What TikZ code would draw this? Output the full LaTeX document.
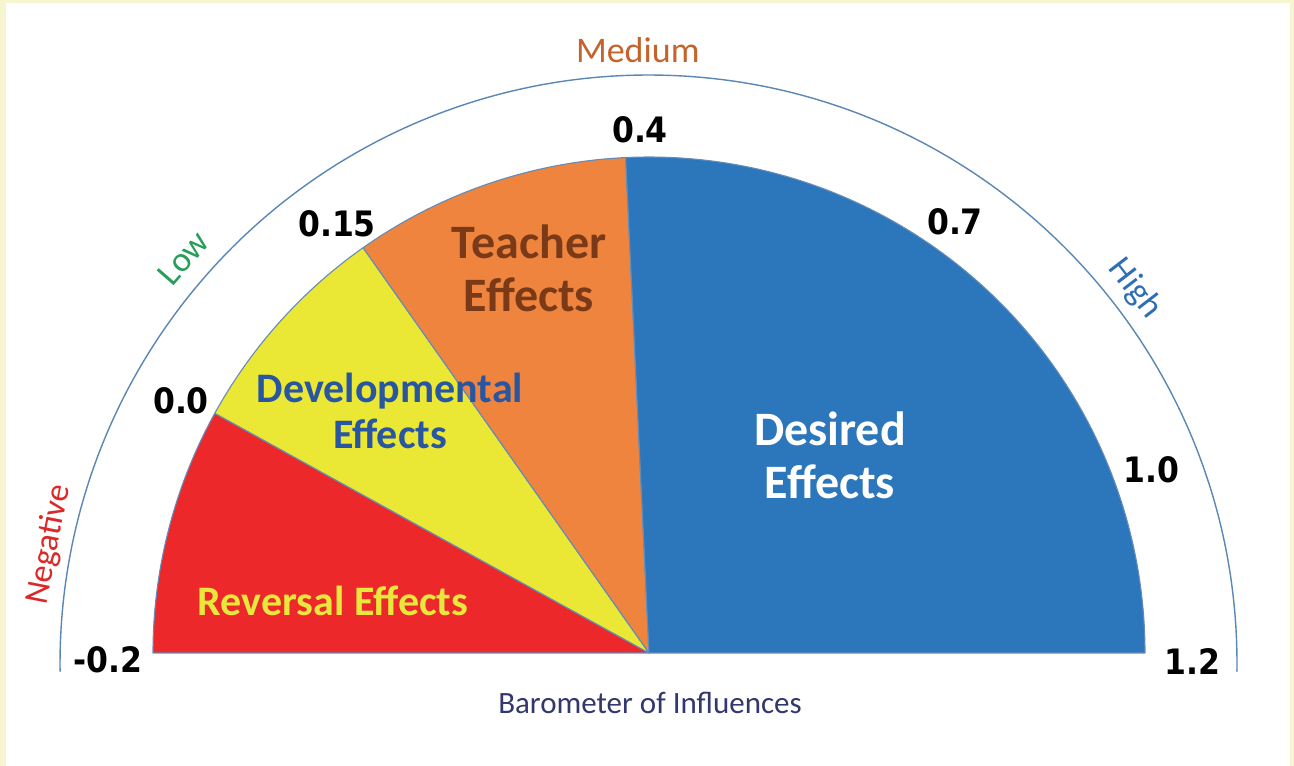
\documentclass[tikz,border=0pt]{standalone}
\usepackage{fontspec}
\setmainfont{Carlito}
\newfontfamily\numfont{DejaVu Sans Condensed}
\usetikzlibrary{calc}

\definecolor{frame}{RGB}{247,245,207}
\definecolor{wedgeline}{RGB}{100,140,185}
\definecolor{rimline}{RGB}{90,135,180}
\definecolor{revred}{RGB}{236,40,42}
\definecolor{devyellow}{RGB}{234,232,52}
\definecolor{teachorange}{RGB}{238,132,62}
\definecolor{desblue}{RGB}{44,118,188}
\definecolor{teachtext}{RGB}{122,58,24}
\definecolor{devtext}{RGB}{40,86,160}
\definecolor{revtext}{RGB}{232,232,60}
\definecolor{medtext}{RGB}{196,100,44}
\definecolor{lowtext}{RGB}{40,158,90}
\definecolor{hightext}{RGB}{46,110,180}
\definecolor{negtext}{RGB}{222,40,40}
\definecolor{barotext}{RGB}{50,55,110}

\tikzset{
  wedge/.style={draw=wedgeline, line width=1.1pt, line join=round},
  rim/.style={draw=rimline, line width=1.4pt},
  tick/.style={font=\numfont\bfseries\fontsize{35}{40}\selectfont, text=black, inner sep=0pt},
  zone/.style={font=\fontsize{#1}{40}\selectfont, inner sep=0pt},
  effect/.style={font=\bfseries\fontsize{#1}{\dimexpr #1pt*11/10\relax}\selectfont, align=center, inner sep=0pt},
}

\begin{document}
\begin{tikzpicture}[x=1pt,y=1pt]
  % page background and frame
  \useasboundingbox (0,0) rectangle (1294,766);
  \fill[frame] (0,0) rectangle (1294,766);
  \fill[white] (6,0) rectangle (1290,763);

  % centres of the gauge and of the outer scale
  \coordinate (C) at (649,113);
  \coordinate (O) at (648.5,102.5);

  % outer scale arc
  \draw[rim] ($(O)+(-0.8:588.5)$) arc[start angle=-0.8, end angle=180.8, radius=588.5];

  % wedges of the gauge
  \filldraw[wedge, fill=revred] (C) -- ($(C)+(180:496)$) arc[start angle=180, end angle=151.1, radius=496] -- cycle;
  \filldraw[wedge, fill=devyellow] (C) -- ($(C)+(151.1:496)$) arc[start angle=151.1, end angle=125.2, radius=496] -- cycle;
  \filldraw[wedge, fill=teachorange] (C) -- ($(C)+(125.2:496)$) arc[start angle=125.2, end angle=92.7, radius=496] -- cycle;
  \filldraw[wedge, fill=desblue] (C) -- ($(C)+(92.7:496)$) arc[start angle=92.7, end angle=0, radius=496] -- cycle;

  % wedge labels
  \node[effect=42, text=revtext] (rev) at (333,165) {Reversal Effects};
  \node[effect=42, text=devtext] (dev) at (390,355) {Developmental\\Effects};
  \node[effect=48, text=teachtext] (teach) at (529,498) {Teacher\\Effects};
  \node[effect=48, text=white] (des) at (830,311) {Desired\\Effects};

  % scale values
  \node[tick] (vm02) at (108,106) {-0.2};
  \node[tick] (v00) at (181,365) {0.0};
  \node[tick] (v015) at (337,542) {0.15};
  \node[tick] (v04) at (640,636) {0.4};
  \node[tick] (v07) at (955,544) {0.7};
  \node[tick] (v10) at (1151,296) {1.0};
  \node[tick] (v12) at (1192,104) {1.2};

  % zone names along the outer arc
  \node[zone=34, text=negtext, rotate=78.8] (neg) at ($(O)+(168.8:611)$) {Negative};
  \node[zone=35, text=lowtext, rotate=48.9] (low) at ($(O)+(138.9:617)$) {Low};
  \node[zone=36, text=medtext] (med) at ($(O)+(91:613.5)$) {Medium};
  \node[zone=35, text=hightext, rotate=-52.4] (high) at ($(O)+(37.6:614)$) {High};

  % caption
  \node[zone=31, text=barotext] (baro) at (650,63) {Barometer of Influences};
\end{tikzpicture}
\end{document}
